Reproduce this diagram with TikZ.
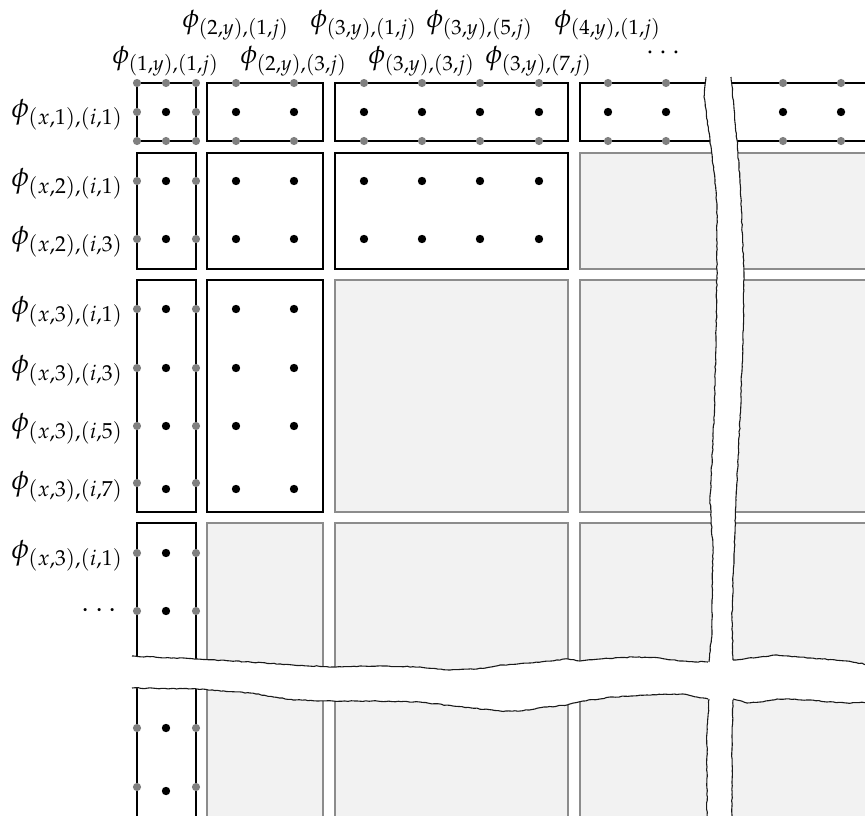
\documentclass[tikz,border=0pt]{standalone}
\usepackage{mathpazo}
\usetikzlibrary{decorations.pathmorphing}
\begin{document}
\begin{tikzpicture}[x=1pt,y=-1pt,
  blk/.style={draw=black,line width=1.7pt,fill=white},
  gblk/.style={draw=black!45,line width=1.4pt,fill=black!5},
  bdot/.style={fill=black},
  gdot/.style={fill=black!50},
  lbl/.style={inner sep=0pt,scale=2.85},
  clbl/.style={inner sep=0pt,scale=2.72},
  tearedge/.style={draw=black!90,line width=1.1pt,decorate,
    decoration={random steps,segment length=3pt,amplitude=0.45pt}}]
\pgfmathsetseed{11}
\useasboundingbox (0,0) rectangle (865,816);
\begin{scope}
\clip (0,0) rectangle (865,816);
% ---- row 1
\draw[blk] (137,83) rectangle (196,141);
\draw[blk] (207,83) rectangle (323,141);
\draw[blk] (335,83) rectangle (568,141);
\draw[blk] (580,83) rectangle (890,141);
% ---- row 2
\draw[blk] (137,153) rectangle (196,269);
\draw[blk] (207,153) rectangle (323,269);
\draw[blk] (335,153) rectangle (568,269);
\draw[gblk] (580,153) rectangle (890,269);
% ---- row 3
\draw[blk] (137,280) rectangle (196,512);
\draw[blk] (207,280) rectangle (323,512);
\draw[gblk] (335,280) rectangle (568,512);
\draw[gblk] (580,280) rectangle (890,512);
% ---- row 4 (continues below the tear)
\draw[blk] (137,523) rectangle (196,840);
\draw[gblk] (207,523) rectangle (323,840);
\draw[gblk] (335,523) rectangle (568,840);
\draw[gblk] (580,523) rectangle (890,840);
% ---- black dots
\foreach \x in {166,236,294,364,422,480,539,608,666,783,841}
  \fill[bdot] (\x,112) circle (4.2pt);
\foreach \y in {181,239} \foreach \x in {166,236,294,364,422,480,539}
  \fill[bdot] (\x,\y) circle (4.2pt);
\foreach \y in {309,368,426,489} \foreach \x in {166,236,294}
  \fill[bdot] (\x,\y) circle (4.2pt);
\foreach \y in {553,611,728,791}
  \fill[bdot] (166,\y) circle (4.2pt);
% ---- grey (boundary) dots
\foreach \x in {137,166,196,236,294,364,422,480,539,608,666,783,841} {
  \fill[gdot] (\x,83) circle (4.1pt);
  \fill[gdot] (\x,141) circle (4.1pt);
}
\foreach \y in {112,181,239,309,368,426,483,553,611,728,787} {
  \fill[gdot] (137,\y) circle (4.1pt);
  \fill[gdot] (196,\y) circle (4.1pt);
}
% ---- tears: white gaps
\fill[white] (706,77) -- (704,97) -- (710,140) -- (715,180) -- (717,207) -- (717,270)
  -- (716,340) -- (714,420) -- (710,500) -- (713,550) -- (712,600) -- (712,633)
  -- (709,662) -- (709,699) -- (707,733) -- (707,767) -- (707,830)
  -- (732,830) -- (732,750) -- (733,700) -- (733,660) -- (732,617) -- (733,583)
  -- (735,533) -- (736,500) -- (740,420) -- (743,340) -- (744,273) -- (742,227)
  -- (740,180) -- (737,140) -- (731,77) -- cycle;
\fill[white] (132,656) -- (197,659) -- (250,662) -- (293,665) -- (333,667) -- (377,666)
  -- (420,667) -- (450,670) -- (477,669) -- (503,665) -- (530,663) -- (568,659)
  -- (580,661) -- (600,659) -- (633,657) -- (660,658) -- (680,661) -- (708,662)
  -- (733,660) -- (760,657) -- (777,655) -- (810,658) -- (847,661) -- (870,665)
  -- (870,702) -- (847,703) -- (827,702) -- (810,700) -- (777,699) -- (760,702)
  -- (747,703) -- (733,699) -- (708,699) -- (697,697) -- (683,694) -- (647,695)
  -- (613,697) -- (583,701) -- (567,705) -- (547,707) -- (520,711) -- (500,711)
  -- (453,706) -- (420,702) -- (377,701) -- (333,701) -- (293,700) -- (250,693)
  -- (197,689) -- (132,688) -- cycle;
% ---- tears: torn edges
\draw[tearedge] (706,77) -- (704,97) -- (710,140) -- (715,180) -- (717,207) -- (717,270)
  -- (716,340) -- (714,420) -- (710,500) -- (713,550) -- (712,600) -- (712,633) -- (709,662);
\draw[tearedge] (709,699) -- (707,733) -- (707,767) -- (707,830);
\draw[tearedge] (731,77) -- (737,140) -- (740,180) -- (742,227) -- (744,273) -- (743,340)
  -- (740,420) -- (736,500) -- (735,533) -- (733,583) -- (732,617) -- (733,660);
\draw[tearedge] (733,700) -- (732,750) -- (732,830);
\draw[tearedge] (132,656) -- (197,659) -- (250,662) -- (293,665) -- (333,667) -- (377,666)
  -- (420,667) -- (450,670) -- (477,669) -- (503,665) -- (530,663) -- (568,659)
  -- (580,661) -- (600,659) -- (633,657) -- (660,658) -- (680,661) -- (708,662);
\draw[tearedge] (733,660) -- (760,657) -- (777,655) -- (810,658) -- (847,661) -- (870,665);
\draw[tearedge] (132,688) -- (197,689) -- (250,693) -- (293,700) -- (333,701) -- (377,701)
  -- (420,702) -- (453,706) -- (500,711) -- (520,711) -- (547,707) -- (567,705)
  -- (583,701) -- (613,697) -- (647,695) -- (683,694) -- (697,697) -- (708,699);
\draw[tearedge] (733,699) -- (747,703) -- (760,702) -- (777,699) -- (810,700) -- (827,702)
  -- (847,703) -- (870,702);
\end{scope}
% ---- column labels
\node[clbl] (c1) at (166,61) {$\phi_{(1,y),(1,j)}$};
\node[clbl] (c2) at (236,25) {$\phi_{(2,y),(1,j)}$};
\node[clbl] (c3) at (294,61) {$\phi_{(2,y),(3,j)}$};
\node[clbl] (c4) at (364,25) {$\phi_{(3,y),(1,j)}$};
\node[clbl] (c5) at (422,61) {$\phi_{(3,y),(3,j)}$};
\node[clbl] (c6) at (480,25) {$\phi_{(3,y),(5,j)}$};
\node[clbl] (c7) at (539,61) {$\phi_{(3,y),(7,j)}$};
\node[clbl] (c8) at (608,25) {$\phi_{(4,y),(1,j)}$};
\node[clbl] (c9) at (663,53) {$\cdots$};
% ---- row labels
\node[lbl,anchor=east] (r1) at (124,115) {$\phi_{(x,1),(i,1)}$};
\node[lbl,anchor=east] (r2) at (124,184) {$\phi_{(x,2),(i,1)}$};
\node[lbl,anchor=east] (r3) at (124,242) {$\phi_{(x,2),(i,3)}$};
\node[lbl,anchor=east] (r4) at (124,312) {$\phi_{(x,3),(i,1)}$};
\node[lbl,anchor=east] (r5) at (124,371) {$\phi_{(x,3),(i,3)}$};
\node[lbl,anchor=east] (r6) at (124,429) {$\phi_{(x,3),(i,5)}$};
\node[lbl,anchor=east] (r7) at (124,487) {$\phi_{(x,3),(i,7)}$};
\node[lbl,anchor=east] (r8) at (124,556) {$\phi_{(x,3),(i,1)}$};
\node[lbl,anchor=east] (r9) at (118,611) {$\cdots$};
\end{tikzpicture}
\end{document}
